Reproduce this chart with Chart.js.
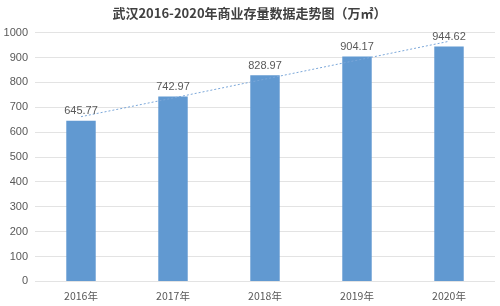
<!DOCTYPE html>
<html>
<head>
<meta charset="utf-8">
<script src="https://cdn.jsdelivr.net/npm/chart.js@4/dist/chart.umd.min.js"></script>
<style>
  html, body { margin: 0; padding: 0; background: #fff; }
  #wrap { width: 500px; height: 306px; }
</style>
</head>
<body>
<div id="wrap"><canvas id="chart"></canvas></div>
<script>
const years = ["2016年", "2017年", "2018年", "2019年", "2020年"];
const stock = [645.77, 742.97, 828.97, 904.17, 944.62];
// dotted trend line
const trend = [662, 737, 813, 889, 965];

const font = "'Noto Sans CJK SC', 'Liberation Sans', sans-serif";

const barLabels = {
  id: "barLabels",
  afterDatasetsDraw(chart) {
    const ctx = chart.ctx;
    const meta = chart.getDatasetMeta(1);
    ctx.save();
    ctx.font = "11px 'Liberation Sans', sans-serif";
    ctx.fillStyle = "#595959";
    ctx.textAlign = "center";
    ctx.textBaseline = "bottom";
    meta.data.forEach((bar, i) => {
      ctx.fillText(stock[i].toFixed(2), bar.x, bar.y - 4);
    });
    ctx.restore();
  }
};

new Chart(document.getElementById("chart"), {
  type: "bar",
  data: {
    labels: years,
    datasets: [
      {
        type: "line",
        data: trend,
        borderColor: "#7ba7d9",
        borderWidth: 1,
        borderDash: [2, 2],
        pointRadius: 0,
        fill: false,
        order: 0
      },
      {
        data: stock,
        backgroundColor: "#6199d1",
        barPercentage: 0.32,
        categoryPercentage: 1,
        order: 1
      }
    ]
  },
  options: {
    responsive: true,
    maintainAspectRatio: false,
    animation: false,
    layout: { padding: { left: 4, right: 5, top: 0, bottom: 4 } },
    plugins: {
      legend: { display: false },
      tooltip: { enabled: false },
      title: {
        display: true,
        text: "武汉2016-2020年商业存量数据走势图（万㎡）",
        color: "#404040",
        font: { family: font, size: 13, weight: "bold" },
        padding: { top: 5, bottom: 12 }
      }
    },
    scales: {
      x: {
        grid: { display: false },
        border: { display: false },
        ticks: { color: "#595959", font: { family: font, size: 10.5 }, padding: 0 }
      },
      y: {
        min: 0,
        max: 1000,
        afterFit: scale => { scale.width = 31; },
        ticks: {
          stepSize: 100,
          color: "#595959",
          font: { family: "'Liberation Sans', sans-serif", size: 11 },
          padding: 7,
          callback: v => String(v)
        },
        grid: { color: "#e3e3e3", drawTicks: false },
        border: { display: false }
      }
    }
  },
  plugins: [barLabels]
});
</script>
</body>
</html>
